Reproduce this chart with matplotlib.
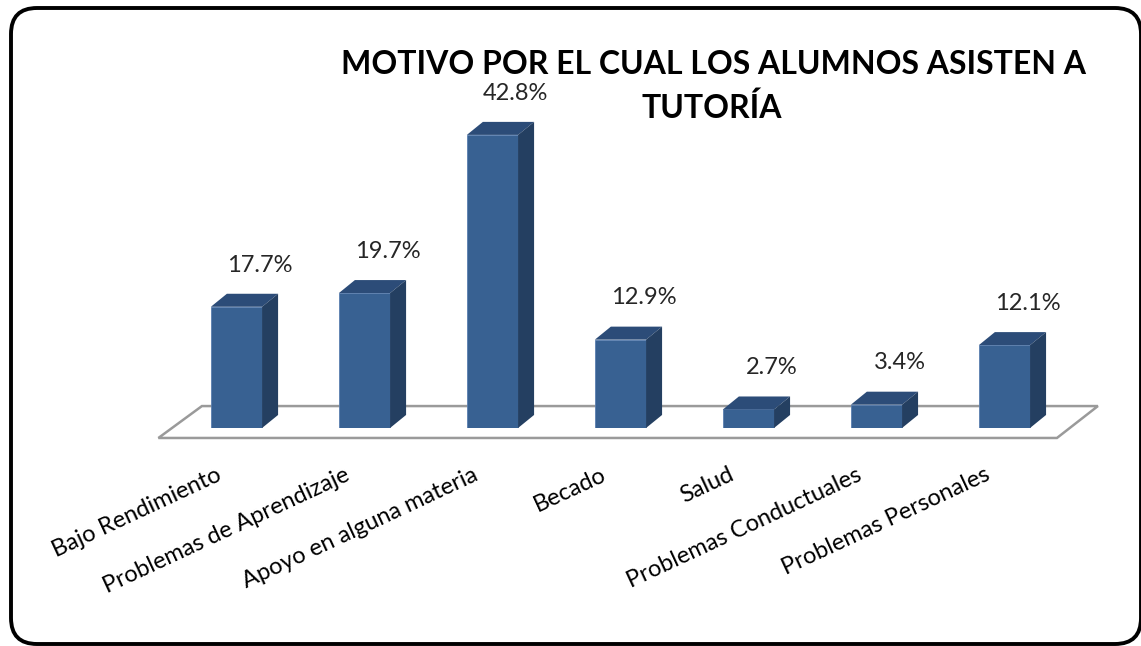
#!/usr/bin/env python3

# plot.py - grafica de barras "3D" de motivos de tutoria

import matplotlib
matplotlib.use('Agg')
import matplotlib.pyplot as plt
from matplotlib.patches import Polygon, FancyBboxPatch

categorias = ['Bajo Rendimiento', 'Problemas de Aprendizaje',
              'Apoyo en alguna materia', 'Becado', 'Salud',
              'Problemas Conductuales', 'Problemas Personales']
porcentajes = [17.7, 19.7, 42.8, 12.9, 2.7, 3.4, 12.1]
etiquetas = ['17.7%', '19.7%', '42.8%', '12.9%', '2.7%', '3.4%', '12.1%']
titulo = ['MOTIVO POR EL CUAL LOS ALUMNOS ASISTEN A', 'TUTORÍA']

FRENTE = '#386192'
ARRIBA = '#2c4c78'
LADO = '#243f61'

plt.rcParams['font.family'] = ['Lato', 'DejaVu Sans']


def dibujar_barra(ax, x, v, ancho, dx, dy):
    izq, der = x - ancho / 2, x + ancho / 2
    ax.bar(x, v, width=ancho, color=FRENTE, edgecolor='#5a7fb0',
           linewidth=0.6, zorder=3)
    techo = [(izq, v), (izq + dx, v + dy), (der + dx, v + dy), (der, v)]
    lado = [(der, 0), (der + dx, dy), (der + dx, v + dy), (der, v)]
    ax.add_patch(Polygon(techo, closed=True, color=ARRIBA, zorder=3, lw=0))
    ax.add_patch(Polygon(lado, closed=True, color=LADO, zorder=3, lw=0))


def main():
    fig = plt.figure(figsize=(11.41, 6.46), dpi=100)

    # marco redondeado en pixeles
    fondo = fig.add_axes([0, 0, 1, 1])
    fondo.set_xlim(0, 1141)
    fondo.set_ylim(0, 646)
    fondo.axis('off')
    fondo.add_patch(FancyBboxPatch((11, 2), 1130, 636,
                                   boxstyle='round,pad=0,rounding_size=26',
                                   fill=False, edgecolor='black', lw=2.8))

    ax = fig.add_axes([0.1063, 0.3375, 0.875, 0.530])
    ax.set_xlim(-0.9, 6.9)
    ax.set_ylim(0, 50)
    ax.axis('off')

    n = len(categorias)
    # piso
    piso = [(-0.61, -1.46), (n - 0.59, -1.46), (n - 0.27, 3.2), (-0.27, 3.2)]
    ax.add_patch(Polygon(piso, closed=True, fill=False, edgecolor='#9a9a9a',
                         lw=1.8, zorder=1, clip_on=False))

    for i, v in enumerate(porcentajes):
        dibujar_barra(ax, i, v, 0.4, 0.125, 1.9)
        ax.text(i + 0.18, v + 6.1, etiquetas[i], ha='center', va='center',
                fontsize=17, color='#262626', zorder=4)
        ax.text(i - 0.16, -5.3, categorias[i], ha='right', va='top',
                rotation=25, rotation_mode='anchor', fontsize=17,
                color='black', clip_on=False)

    fig.text(0.625, 1 - 64 / 646, titulo[0], ha='center', va='center',
             fontsize=23, weight='bold')
    fig.text(0.624, 1 - 108 / 646, titulo[1], ha='center', va='center',
             fontsize=23, weight='bold')

    fig.savefig('out.png', dpi=100, facecolor='white')


if __name__ == "__main__":
    main()
